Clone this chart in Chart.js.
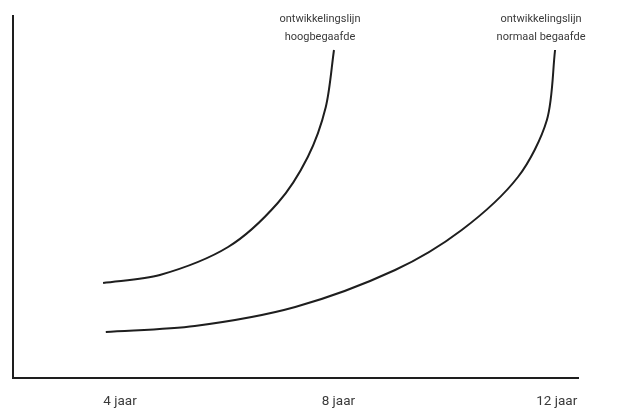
<!DOCTYPE html>
<html>
<head>
<meta charset="utf-8">
<script src="https://cdn.jsdelivr.net/npm/chart.js@4"></script>
<style>
  body { margin: 0; background: #fff; }
  #wrap { width: 620px; height: 410px; }
</style>
</head>
<body>
<div id="wrap"><canvas id="lineChart" width="620" height="410"></canvas></div>
<script>
const tickYears = [4, 8, 12];
const tickLabels = ["4 jaar", "8 jaar", "12 jaar"];

const hoogAge = [3.69, 4.73, 5.98, 6.89, 7.44, 7.77, 7.92];
const hoogLevel = [95, 103, 131, 175, 221, 271, 328];

const normaalAge = [3.74, 5.37, 7.21, 9.04, 10.26, 11.29, 11.82, 11.97];
const normaalLevel = [46, 52, 71, 108, 148, 201, 258, 328];

const seriesNames = [
  ["ontwikkelingslijn", "hoogbegaafde"],
  ["ontwikkelingslijn", "normaal begaafde"],
];

function toPoints(xs, ys) {
  return xs.map((x, i) => ({ x: x, y: ys[i] }));
}

// labels above the end of each curve
const lineLabels = {
  id: "lineLabels",
  afterDatasetsDraw(chart) {
    const c = chart.ctx;
    c.save();
    c.font = "11px Roboto, sans-serif";
    c.fillStyle = "#3a3a3a";
    c.textAlign = "center";
    c.textBaseline = "middle";
    chart.data.datasets.forEach((ds, i) => {
      const meta = chart.getDatasetMeta(i);
      const last = meta.data[meta.data.length - 1];
      const cx = last.x - 14;
      c.fillText(seriesNames[i][0], cx, 19);
      c.fillText(seriesNames[i][1], cx, 37);
    });
    c.restore();
  },
};

const ctx = document.getElementById("lineChart").getContext("2d");

const lineChart = new Chart(ctx, {
  type: "scatter",
  data: {
    datasets: [
      {
        data: toPoints(hoogAge, hoogLevel),
        showLine: true,
        borderColor: "#1e1e1e",
        borderWidth: 2,
        pointRadius: 0,
        tension: 0.3,
      },
      {
        data: toPoints(normaalAge, normaalLevel),
        showLine: true,
        borderColor: "#1e1e1e",
        borderWidth: 2,
        pointRadius: 0,
        tension: 0.3,
      },
    ],
  },
  options: {
    responsive: false,
    animation: false,
    layout: {
      padding: { left: 12, right: 42, top: 16, bottom: 0 },
    },
    scales: {
      x: {
        type: "linear",
        min: 2.04,
        max: 12.39,
        grid: { display: false, drawTicks: false },
        border: { display: true, color: "#1e1e1e", width: 2 },
        afterBuildTicks: function (axis) {
          axis.ticks = tickYears.map((v) => ({ value: v }));
        },
        afterFit: function (axis) {
          axis.height = 32;
        },
        ticks: {
          padding: 16,
          color: "#3a3a3a",
          font: { family: "Roboto, sans-serif", size: 13.5 },
          maxRotation: 0,
          autoSkip: false,
          callback: function (value) {
            const i = tickYears.indexOf(value);
            return i >= 0 ? tickLabels[i] : "";
          },
        },
      },
      y: {
        min: 0,
        max: 362,
        grid: { display: false, drawTicks: false },
        border: { display: true, color: "#1e1e1e", width: 2 },
        ticks: { display: false },
        afterFit: function (axis) {
          axis.width = 1;
        },
      },
    },
    plugins: {
      legend: { display: false },
      tooltip: { enabled: false },
    },
  },
  plugins: [lineLabels],
});
</script>
</body>
</html>
